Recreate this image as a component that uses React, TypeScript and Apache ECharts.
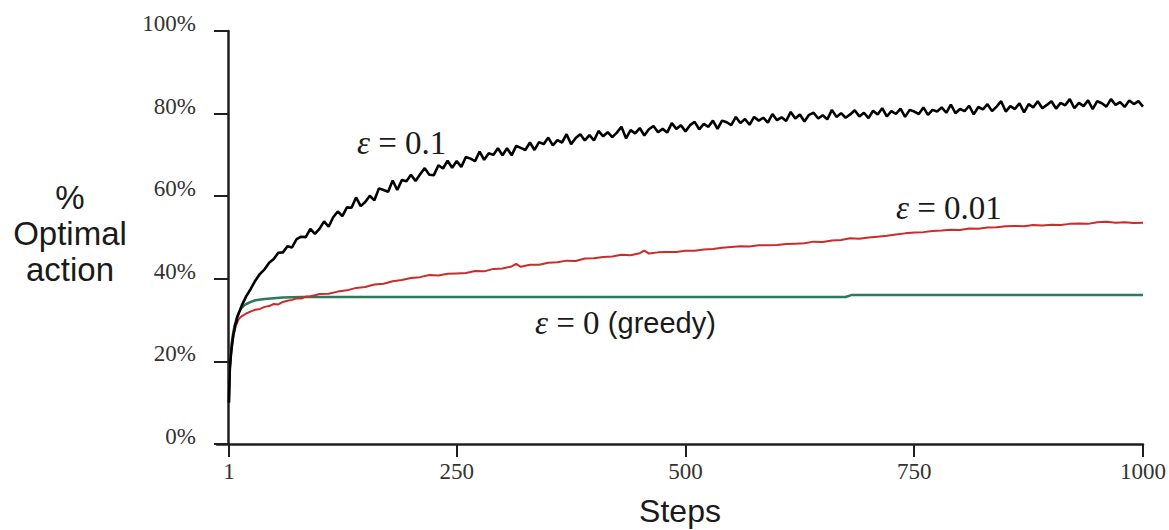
import React, { useEffect, useRef } from "react";
import * as echarts from "echarts";

const xTicks = [1, 250, 500, 750, 1000];
const yAxisTitle = "%\nOptimal\naction";
const xAxisTitle = "Steps";

// epsilon = 0.1 (black)
const eps01: [number, number][] = [
  [1, 10.0], [2, 18.0], [3, 21.0], [4, 23.2], [5, 25.0], [6, 26.6], [7, 27.6], [8, 29.0], [9, 29.4], [10, 30.6],
  [15, 33.5], [20, 35.8], [25, 37.6], [30, 39.6], [35, 41.2], [40, 42.3], [45, 43.9], [50, 44.8], [55, 46.3], [60, 46.4],
  [65, 47.9], [70, 47.6], [75, 49.6], [80, 50.2], [85, 50.1], [90, 52.1], [95, 50.9], [100, 52.1], [105, 53.9], [110, 52.6],
  [115, 54.9], [120, 56.3], [125, 55.2], [130, 57.3], [135, 57.2], [140, 59.7], [145, 57.6], [150, 58.6], [155, 60.1], [160, 59.0],
  [165, 61.9], [170, 61.5], [175, 61.1], [180, 63.8], [185, 61.5], [190, 63.9], [195, 63.6], [200, 65.2], [205, 63.7], [210, 65.3],
  [215, 66.8], [220, 65.2], [225, 65.1], [230, 67.5], [235, 66.7], [240, 68.6], [245, 66.9], [250, 68.5], [255, 67.1], [260, 69.5],
  [265, 69.1], [270, 68.5], [275, 70.8], [280, 68.8], [285, 70.4], [290, 70.0], [295, 71.6], [300, 69.9], [305, 71.6], [310, 69.9],
  [315, 72.2], [320, 71.7], [325, 71.2], [330, 73.0], [335, 71.2], [340, 73.1], [345, 72.6], [350, 74.2], [355, 72.3], [360, 73.6],
  [365, 73.0], [370, 75.0], [375, 72.6], [380, 74.1], [385, 75.0], [390, 73.5], [395, 74.8], [400, 73.5], [405, 75.8], [410, 74.5],
  [415, 75.5], [420, 74.3], [425, 75.4], [430, 76.8], [435, 74.0], [440, 76.0], [445, 75.2], [450, 76.5], [455, 74.7], [460, 76.2],
  [465, 77.0], [470, 75.5], [475, 76.3], [480, 75.4], [485, 77.7], [490, 76.3], [495, 77.2], [500, 75.7], [505, 77.2], [510, 78.0],
  [515, 76.2], [520, 77.5], [525, 76.8], [530, 78.3], [535, 76.3], [540, 78.3], [545, 77.9], [550, 77.2], [555, 79.2], [560, 77.7],
  [565, 78.7], [570, 77.3], [575, 79.2], [580, 78.3], [585, 79.0], [590, 77.8], [595, 79.9], [600, 78.4], [605, 79.1], [610, 78.2],
  [615, 80.4], [620, 78.8], [625, 79.8], [630, 78.1], [635, 79.7], [640, 80.2], [645, 78.8], [650, 79.6], [655, 78.6], [660, 80.9],
  [665, 79.2], [670, 80.1], [675, 79.0], [680, 79.8], [685, 80.8], [690, 79.3], [695, 80.2], [700, 78.9], [705, 80.7], [710, 79.8],
  [715, 81.3], [720, 79.3], [725, 80.6], [730, 79.9], [735, 81.2], [740, 79.2], [745, 80.9], [750, 80.5], [755, 79.9], [760, 81.5],
  [765, 79.7], [770, 80.9], [775, 80.5], [780, 81.5], [785, 80.2], [790, 82.2], [795, 80.1], [800, 81.1], [805, 80.6], [810, 81.9],
  [815, 79.8], [820, 81.6], [825, 81.0], [830, 82.3], [835, 80.6], [840, 81.7], [845, 83.0], [850, 80.5], [855, 81.8], [860, 81.1],
  [865, 82.5], [870, 80.3], [875, 82.3], [880, 81.5], [885, 83.0], [890, 81.3], [895, 82.1], [900, 83.0], [905, 81.2], [910, 82.6],
  [915, 82.0], [920, 83.5], [925, 81.3], [930, 82.6], [935, 81.8], [940, 83.2], [945, 81.1], [950, 83.0], [955, 82.5], [960, 81.7],
  [965, 83.5], [970, 82.1], [975, 82.8], [980, 81.6], [985, 83.2], [990, 82.3], [995, 83.0], [1000, 81.7],
];

// epsilon = 0.01 (red)
const eps001: [number, number][] = [
  [1, 10.0], [2, 18.0], [3, 21.0], [4, 23.3], [5, 25.0], [6, 26.3], [7, 27.3], [8, 28.1], [9, 28.8], [10, 29.4],
  [12, 30.3], [14, 30.8], [17, 31.2], [20, 31.6], [25, 32.1], [30, 32.5], [35, 32.7], [40, 33.2], [45, 33.4], [50, 33.9],
  [55, 33.8], [60, 34.4], [65, 34.7], [70, 34.9], [75, 35.3], [80, 35.2], [85, 35.7], [90, 35.8], [95, 36.0], [100, 36.3],
  [110, 36.4], [120, 36.9], [130, 37.2], [140, 37.8], [150, 38.0], [160, 38.6], [170, 38.8], [180, 39.4], [190, 39.7], [200, 40.2],
  [210, 40.4], [220, 40.9], [230, 40.8], [240, 41.2], [250, 41.3], [260, 41.4], [270, 41.9], [280, 41.8], [290, 42.4], [300, 42.5],
  [310, 43.0], [315, 43.6], [320, 42.9], [330, 43.4], [340, 43.4], [350, 43.9], [360, 44.0], [370, 44.4], [380, 44.3], [390, 44.9],
  [400, 45.0], [410, 45.3], [420, 45.4], [430, 45.8], [440, 45.7], [450, 46.2], [455, 46.8], [460, 46.1], [470, 46.4], [480, 46.5],
  [490, 46.5], [500, 46.8], [510, 46.8], [520, 47.1], [530, 47.2], [540, 47.5], [550, 47.7], [560, 47.9], [570, 47.8], [580, 48.1],
  [590, 48.1], [600, 48.2], [610, 48.4], [620, 48.5], [630, 48.6], [640, 49.0], [650, 48.9], [660, 49.3], [670, 49.4], [680, 49.8],
  [690, 49.7], [700, 50.0], [710, 50.2], [720, 50.4], [730, 50.7], [740, 51.0], [750, 51.2], [760, 51.3], [770, 51.6], [780, 51.7],
  [790, 51.9], [800, 51.8], [810, 52.2], [820, 52.1], [830, 52.4], [840, 52.5], [850, 52.7], [860, 52.8], [870, 52.7], [880, 53.0],
  [890, 52.9], [900, 53.1], [910, 53.0], [920, 53.3], [930, 53.4], [940, 53.3], [950, 53.7], [960, 53.8], [970, 53.6], [980, 53.7],
  [990, 53.5], [1000, 53.6],
];

// epsilon = 0 greedy (green)
const eps0: [number, number][] = [
  [1, 10.0], [2, 18.5], [3, 21.8], [4, 24.3], [5, 26.0], [6, 27.3], [7, 28.4], [8, 29.3], [9, 30.1], [10, 30.8],
  [12, 31.9], [14, 32.7], [17, 33.4], [20, 33.9], [25, 34.4], [30, 34.8], [40, 35.1], [50, 35.3], [60, 35.5], [80, 35.6],
  [675, 35.6], [682, 36.1], [1000, 36.1],
];

const SERIF = "'Liberation Serif', 'DejaVu Serif', serif";
const SANS = "'Liberation Sans', Arial, sans-serif";

export default function App() {
  const ref = useRef<HTMLDivElement>(null);
  useEffect(() => {
    if (!ref.current) return;
    const chart = echarts.init(ref.current, undefined, { renderer: "svg" });
    chart.setOption({
      animation: false,
      backgroundColor: "#ffffff",
      grid: { left: 217, right: 26, top: 31, bottom: 86, containLabel: false, outerBoundsMode: "none" },
      xAxis: {
        type: "value",
        min: -12,
        max: 1000,
        name: xAxisTitle,
        nameLocation: "middle",
        nameGap: 51,
        nameTextStyle: { fontFamily: SANS, fontSize: 32, lineHeight: 32, color: "#1a1a1a" },
        axisLine: { show: true, onZero: false, lineStyle: { color: "#1f1f1f", width: 2.5 } },
        axisTick: { show: true, length: 13, customValues: xTicks, lineStyle: { color: "#1f1f1f", width: 2 } },
        axisLabel: {
          customValues: xTicks,
          margin: 16,
          fontFamily: SERIF,
          fontSize: 23,
          color: "#333",
          formatter: (v: number) => String(v),
        },
        splitLine: { show: false },
      },
      yAxis: {
        type: "value",
        min: 0,
        max: 100,
        interval: 20,
        axisLine: { show: true, lineStyle: { color: "#1f1f1f", width: 2.5 } },
        axisTick: { show: true, length: 14, lineStyle: { color: "#1f1f1f", width: 2 } },
        axisLabel: {
          formatter: "{value}%",
          margin: 21,
          fontFamily: SERIF,
          fontSize: 23,
          lineHeight: 15,
          color: "#333",
          verticalAlign: "bottom",
        },
        splitLine: { show: false },
      },
      series: [
        {
          name: "ε = 0",
          type: "line",
          data: eps0,
          showSymbol: false,
          lineStyle: { color: "#2a7a5c", width: 2.5 },
        },
        {
          name: "ε = 0.01",
          type: "line",
          data: eps001,
          showSymbol: false,
          lineStyle: { color: "#cc2b2b", width: 2 },
        },
        {
          name: "ε = 0.1",
          type: "line",
          data: eps01,
          showSymbol: false,
          lineStyle: { color: "#000000", width: 2.6 },
        },
      ],
      graphic: [
        {
          type: "text",
          x: 70,
          y: 179,
          style: {
            text: yAxisTitle,
            fill: "#1a1a1a",
            font: `33px ${SANS}`,
            lineHeight: 36,
            align: "center",
            verticalAlign: "top",
          },
        },
        {
          type: "text",
          left: 357,
          top: 126,
          style: {
            text: "{e|ε} = 0.1",
            fill: "#1a1a1a",
            font: `33px ${SERIF}`,
            rich: { e: { fontStyle: "italic", fontFamily: SERIF, fontSize: 33 } },
          },
        },
        {
          type: "text",
          left: 896,
          top: 191,
          style: {
            text: "{e|ε} = 0.01",
            fill: "#1a1a1a",
            font: `33px ${SERIF}`,
            rich: { e: { fontStyle: "italic", fontFamily: SERIF, fontSize: 33 } },
          },
        },
        {
          type: "text",
          left: 535,
          top: 306,
          style: {
            text: "{e|ε} = 0 {g|(greedy)}",
            fill: "#1a1a1a",
            font: `33px ${SERIF}`,
            rich: {
              e: { fontStyle: "italic", fontFamily: SERIF, fontSize: 33 },
              g: { fontFamily: SANS, fontSize: 29 },
            },
          },
        },
      ],
    });
    return () => chart.dispose();
  }, []);
  return <div ref={ref} style={{ width: 1169, height: 530, position: "absolute", left: 0, top: 0 }} />;
}
